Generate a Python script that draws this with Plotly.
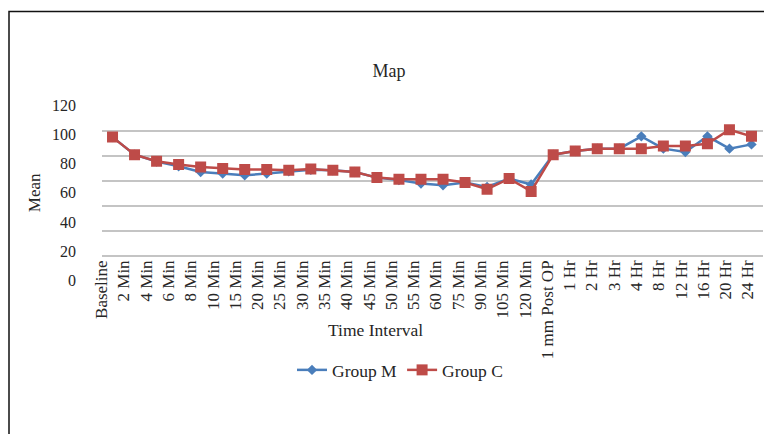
import plotly.graph_objects as go

categories = ["Baseline", "2 Min", "4 Min", "6 Min", "8 Min", "10 Min", "15 Min", "20 Min",
              "25 Min", "30 Min", "35 Min", "40 Min", "45 Min", "50 Min", "55 Min", "60 Min",
              "75 Min", "90 Min", "105 Min", "120 Min", "1 mm Post OP", "1 Hr", "2 Hr", "3 Hr",
              "4 Hr", "8 Hr", "12 Hr", "16 Hr", "20 Hr", "24 Hr"]

group_m = [94.8, 80.8, 75.3, 71.5, 67.0, 65.7, 64.4, 65.7, 67.5, 68.8, 68.3, 67.0, 62.5, 60.5,
           57.8, 56.4, 58.6, 55.0, 61.7, 57.0, 80.8, 83.7, 85.6, 85.6, 95.4, 85.6, 82.9, 95.4,
           85.6, 89.0]
group_c = [94.8, 80.8, 75.5, 72.9, 71.0, 69.7, 68.9, 68.9, 68.3, 69.3, 68.3, 67.0, 62.5, 61.2,
           61.2, 61.2, 58.6, 53.2, 61.7, 51.5, 80.8, 83.7, 85.6, 85.6, 85.6, 87.7, 87.7, 89.5,
           100.7, 95.4]

y_ticks = [0, 20, 40, 60, 80, 100, 120]

FONT = "Liberation Serif"
TXT = "#262626"
BLUE = "#4A7EBB"
RED = "#BE4B48"
GRID = "#c4c4c4"

# page offset (body margin) compensation: plot area spans screen x 66..772, y 100..334
L0, T0, W, H = 66, 100, 706, 234


def px(sx):
    return (sx - L0) / W


def py(sy):
    return (T0 + H - sy) / H


fig = go.Figure()
fig.add_trace(go.Scatter(x=categories, y=group_m, name="Group M", mode="lines+markers",
                         line=dict(color=BLUE, width=2.5),
                         marker=dict(symbol="diamond", size=8, color=BLUE)))
fig.add_trace(go.Scatter(x=categories, y=group_c, name="Group C", mode="lines+markers",
                         line=dict(color=RED, width=2.5),
                         marker=dict(symbol="square", size=11, color=RED)))
# label axes (tick text of the original sits slightly off the grid)
fig.add_trace(go.Scatter(x=categories, y=[None] * len(categories), xaxis="x2", yaxis="y2",
                         mode="lines", showlegend=False, hoverinfo="skip"))

fig.update_layout(
    width=772, height=434,
    margin=dict(l=L0 - 8, r=8, t=T0 - 8, b=434 - (T0 + H - 8)),
    paper_bgcolor="white", plot_bgcolor="rgba(0,0,0,0)",
    font=dict(family=FONT, size=16, color=TXT),
    title=dict(text="Map", x=px(389), xref="paper", xanchor="center",
               y=1 - (71 - 8) / 434, yref="container", yanchor="middle",
               font=dict(family=FONT, size=18, color=TXT)),
    showlegend=True,
    legend=dict(orientation="h", x=px(400), xanchor="center", y=py(370), yanchor="middle",
                font=dict(family=FONT, size=17.5, color=TXT), itemwidth=30),
    xaxis=dict(type="category", categoryarray=categories, range=[-0.5, 29.5],
               domain=[px(101.5), px(762.5)], anchor="y",
               showticklabels=False, showgrid=False, showline=False, ticks="", zeroline=False),
    yaxis=dict(range=[0, 120], tickvals=y_ticks, domain=[py(256), py(105.5)],
               anchor="x", showticklabels=False, showgrid=True, gridcolor=GRID, gridwidth=2,
               zeroline=True, zerolinecolor=GRID, zerolinewidth=2, showline=False, ticks=""),
    xaxis2=dict(type="category", categoryarray=categories, range=[-0.5, 29.5],
                domain=[px(90.55), px(759.1)], anchor="y",
                tickangle=-90, showgrid=False, showline=False, ticks="", zeroline=False,
                tickfont=dict(family=FONT, size=17, color=TXT)),
    yaxis2=dict(range=[0, 120], tickvals=y_ticks, domain=[py(280), py(105.7)],
                anchor="free", position=px(76), showgrid=False, showline=False, ticks="",
                zeroline=False, tickfont=dict(family=FONT, size=16, color=TXT),
                title=dict(text="Mean", standoff=6, font=dict(family=FONT, size=17, color=TXT))),
    annotations=[dict(text="Time Interval", xref="paper", yref="paper",
                      x=px(375), y=py(330), xanchor="center", yanchor="middle",
                      showarrow=False, font=dict(family=FONT, size=17.5, color=TXT))],
    shapes=[dict(type="rect", xref="paper", yref="paper",
                 x0=px(9), x1=px(800), y0=py(470), y1=py(11.5),
                 line=dict(color="#111111", width=1.5), fillcolor="rgba(0,0,0,0)", layer="below")],
)

fig.write_html("out.html")
